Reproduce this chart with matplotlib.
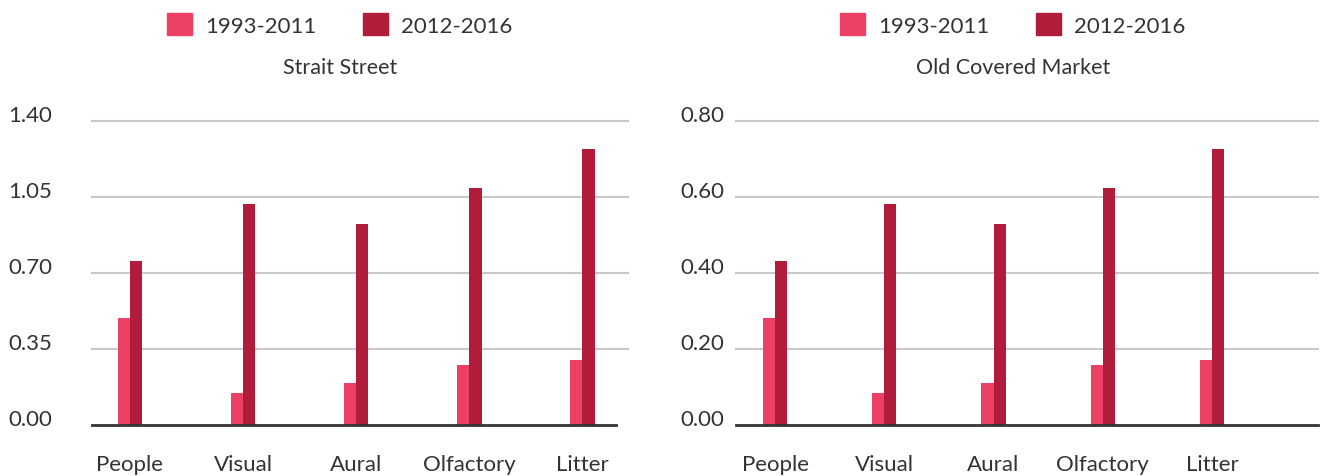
import matplotlib
matplotlib.use("Agg")
import matplotlib.pyplot as plt
import numpy as np

plt.rcParams['font.family'] = ['Lato', 'DejaVu Sans']

# data -------------------------------------------------------------
categories = ['People', 'Visual', 'Aural', 'Olfactory', 'Litter']
series_names = ['1993-2011', '2012-2016']

strait_early = [0.494, 0.149, 0.195, 0.278, 0.301]
strait_late = [0.756, 1.019, 0.927, 1.093, 1.273]
strait_ticks = [0.00, 0.35, 0.70, 1.05, 1.40]

market_early = [0.282, 0.085, 0.111, 0.158, 0.171]
market_late = [0.432, 0.582, 0.529, 0.624, 0.727]
market_ticks = [0.00, 0.20, 0.40, 0.60, 0.80]

panel_titles = ['Strait Street', 'Old Covered Market']

# style ------------------------------------------------------------
c_light = '#EC4064'
c_dark = '#B01C3A'
txt = '#333333'
grid_c = '#C8C8C8'

W, H = 1323, 477
fig = plt.figure(figsize=(W / 100, H / 100), dpi=100)


def panel(rect, early, late, ticks, xlim, base_end, label_pad):
    ax = fig.add_axes(rect)
    x = np.arange(len(categories))
    w = 0.11
    ax.bar(x, early, width=-w, align='edge', color=c_light, zorder=3)
    ax.bar(x, late, width=w, align='edge', color=c_dark, zorder=3)
    ax.set_xlim(*xlim)
    ax.set_ylim(0, ticks[-1])
    ax.set_yticks(ticks)
    ax.set_yticklabels(['%.2f' % t for t in ticks])
    for t in ticks[1:]:
        ax.axhline(t, color=grid_c, lw=1.5, zorder=1, clip_on=False)
    ax.axhline(0, xmin=0, xmax=base_end, color=txt, lw=2, zorder=4, clip_on=False)
    ax.set_xticks(x)
    ax.set_xticklabels(categories)
    for s in ax.spines.values():
        s.set_visible(False)
    ax.tick_params(axis='both', length=0, labelsize=16, colors=txt)
    ax.tick_params(axis='x', pad=21)
    ax.tick_params(axis='y', pad=label_pad)
    for lab in ax.get_yticklabels():
        lab.set_ha('left')
        lab.set_va('baseline')
    return ax


bottom = (H - 426) / H
height = (426 - 122) / H

panel([92 / W, bottom, (628 - 92) / W, height],
      strait_early, strait_late, strait_ticks,
      (-0.336, 4.406), 0.978, 60)
panel([736 / W, bottom, (1318 - 736) / W, height],
      market_early, market_late, market_ticks,
      (-0.357, 4.97), 1.0, 40)

# legends and titles
from matplotlib.patches import Patch
handles = [Patch(color=c_light), Patch(color=c_dark)]
for cx, title in zip([340, 1013], panel_titles):
    fig.legend(handles, series_names, loc='center',
               bbox_to_anchor=(cx / W, 1 - 25.5 / H), ncol=2, frameon=False,
               fontsize=16, handlelength=1.12, handleheight=1.12,
               handletextpad=0.6, columnspacing=2.1, labelcolor=txt,
               borderaxespad=0, borderpad=0)
    fig.text(cx / W, 1 - 68 / H, title, ha='center', va='center',
             fontsize=15.5, color=txt)

fig.savefig('out.png', dpi=100)
